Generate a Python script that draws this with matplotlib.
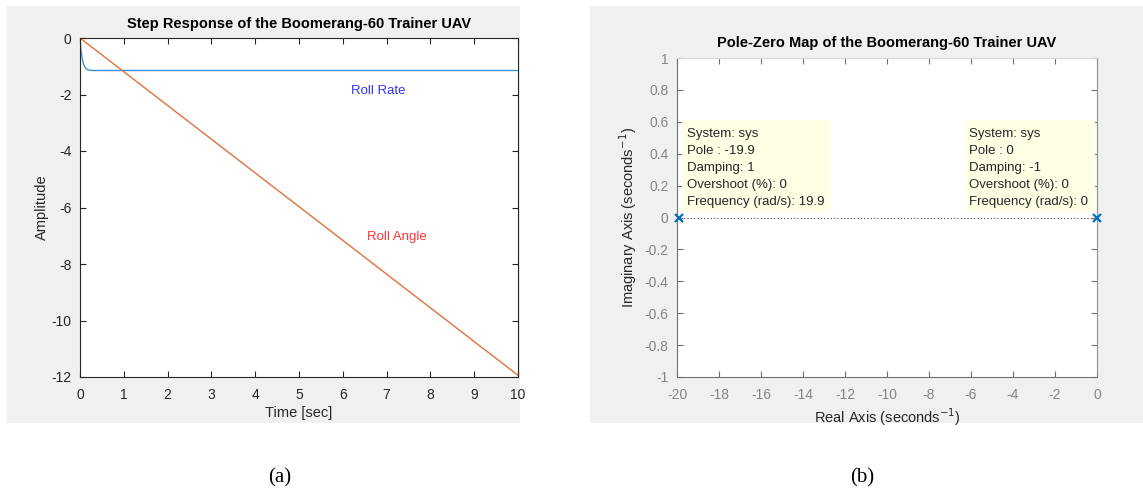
import matplotlib
matplotlib.use("Agg")
import matplotlib.pyplot as plt
from matplotlib.patches import Rectangle

# ---- data ----
t_rate = [0.0, 0.01, 0.02, 0.03, 0.05, 0.07, 0.1, 0.13, 0.16, 0.2, 0.25, 0.3, 10.0]
roll_rate = [0.0, -0.21, -0.38, -0.52, -0.72, -0.87, -1.00, -1.07, -1.11, -1.135, -1.145, -1.15, -1.15]
t_angle = [0.0, 10.0]
roll_angle = [0.0, -11.94]
x_ticks_a = [0, 1, 2, 3, 4, 5, 6, 7, 8, 9, 10]
y_ticks_a = [0, -2, -4, -6, -8, -10, -12]

pole_real = [-19.9, 0.0]
pole_imag = [0.0, 0.0]
x_ticks_b = [-20, -18, -16, -14, -12, -10, -8, -6, -4, -2, 0]
y_ticks_b = [1, 0.8, 0.6, 0.4, 0.2, 0, -0.2, -0.4, -0.6, -0.8, -1]
tip_left = ["System: sys", "Pole : -19.9", "Damping: 1", "Overshoot (%): 0", "Frequency (rad/s): 19.9"]
tip_right = ["System: sys", "Pole : 0", "Damping: -1", "Overshoot (%): 0", "Frequency (rad/s): 0"]

W, H = 1143, 492
plt.rcParams["font.family"] = ["Liberation Sans", "DejaVu Sans"]
plt.rcParams["axes.unicode_minus"] = False
fig = plt.figure(figsize=(W / 100, H / 100), dpi=100)
fig.patch.set_facecolor("white")

def fx(px):
    return px / W

def fy(py):
    return 1 - py / H

# gray panels
for x0, x1 in [(7, 520), (590, 1143)]:
    fig.patches.append(Rectangle((fx(x0), fy(423)), fx(x1) - fx(x0), fy(6) - fy(423),
                                 transform=fig.transFigure, facecolor="#f0f0f0",
                                 edgecolor="none", zorder=-10))

# ---- (a) step response ----
ax1 = fig.add_axes([fx(80), fy(377), fx(518) - fx(80), fy(38) - fy(377)])
ax1.plot(t_rate, roll_rate, color="#3a8fd0", lw=1.0)
ax1.plot(t_angle, roll_angle, color="#e0703c", lw=1.0)
ax1.set_xlim(0, 10)
ax1.set_ylim(-12, 0)
ax1.set_xticks(x_ticks_a)
ax1.set_yticks(y_ticks_a)
ax1.set_yticklabels([str(v) for v in y_ticks_a])
dark = "#262626"
for s in ax1.spines.values():
    s.set_color(dark)
    s.set_linewidth(0.8)
ax1.tick_params(direction="in", length=4, width=0.8, colors=dark, labelsize=10,
                top=True, right=True)
ax1.tick_params(axis="x", pad=8)
ax1.tick_params(axis="y", pad=6)
ax1.set_title("Step Response of the Boomerang-60 Trainer UAV", fontsize=10.5,
              fontweight="bold", color="black", pad=7)
ax1.set_xlabel("Time [sec]", fontsize=10.5, color=dark, labelpad=3)
ax1.set_ylabel("Amplitude", fontsize=10.5, color=dark, labelpad=2)
ax1.text(6.8, -1.88, "Roll Rate", color="#3333ff", fontsize=9.5, ha="center", va="center")
ax1.text(7.24, -7.04, "Roll Angle", color="#ff3333", fontsize=9.5, ha="center", va="center")

# ---- (b) pole-zero map ----
ax2 = fig.add_axes([fx(677), fy(377), fx(1097) - fx(677), fy(58) - fy(377)])
ax2.set_xlim(-20, 0)
ax2.set_ylim(-1, 1)
ax2.axhline(0, color="#404040", lw=0.8, ls=(0, (1, 2)), zorder=1)
ax2.plot(pole_real, pole_imag, "x", color="#0072BD", ms=6, mew=1.6, clip_on=False, zorder=5)
ax2.set_xticks(x_ticks_b)
ax2.set_yticks(y_ticks_b)
ax2.set_yticklabels(["1", "0.8", "0.6", "0.4", "0.2", "0", "-0.2", "-0.4", "-0.6", "-0.8", "-1"])
gray = "#858585"
ax2.spines["left"].set_color("#707070")
ax2.spines["bottom"].set_color("#707070")
ax2.spines["top"].set_color("#d8d8d8")
ax2.spines["right"].set_color("#909090")
ax2.spines["right"].set_linestyle((0, (1, 1)))
for s in ax2.spines.values():
    s.set_linewidth(0.8)
ax2.tick_params(direction="in", length=4, width=0.8, colors="#707070", labelcolor=gray,
                labelsize=10, top=True, right=True)
ax2.tick_params(axis="x", pad=8)
ax2.tick_params(axis="y", pad=6)
ax2.set_title("Pole-Zero Map of the Boomerang-60 Trainer UAV", fontsize=10.5,
              fontweight="bold", color="black", pad=8)
ax2.set_xlabel("Real Axis (seconds$^{\\mathrm{-1}}$)", fontsize=10.5, color=dark, labelpad=3)
ax2.set_ylabel("Imaginary Axis (seconds$^{\\mathrm{-1}}$)", fontsize=10.5, color=dark, labelpad=4)

tipc = "#ffffe6"
ax2.add_patch(Rectangle((-19.76, 0.035), 7.05, 0.576, facecolor=tipc, edgecolor="none", zorder=3))
ax2.add_patch(Rectangle((-6.29, 0.035), 6.2, 0.576, facecolor=tipc, edgecolor="none", zorder=3))
line_y = [0.525, 0.418, 0.312, 0.205, 0.098]
for txt, yy in zip(tip_left, line_y):
    ax2.text(-19.52, yy, txt, fontsize=9.5, color="#262626", va="center", ha="left", zorder=4)
for txt, yy in zip(tip_right, line_y):
    ax2.text(-6.1, yy, txt, fontsize=9.5, color="#262626", va="center", ha="left", zorder=4)

# captions
fig.text(fx(280), fy(478), "(a)", fontsize=15, family="Liberation Serif", ha="center", va="center")
fig.text(fx(862), fy(478), "(b)", fontsize=15, family="Liberation Serif", ha="center", va="center")

fig.savefig("out.png", dpi=100, facecolor="white")
